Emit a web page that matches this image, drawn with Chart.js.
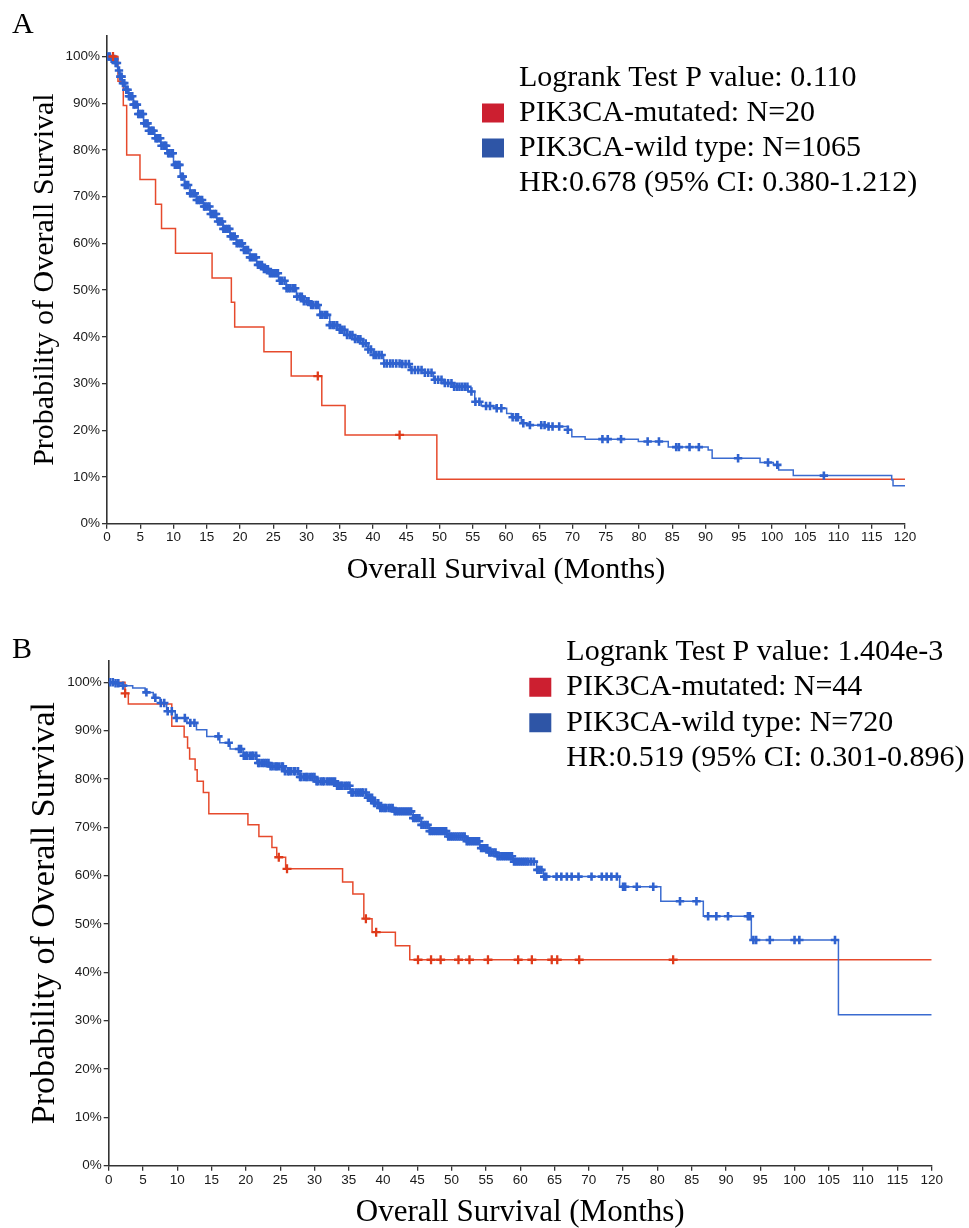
<!DOCTYPE html>
<html><head><meta charset="utf-8">
<script src="https://cdn.jsdelivr.net/npm/chart.js@4"></script>
<style>
html,body{margin:0;padding:0;background:#fff;}
#wrapA{position:absolute;left:0;top:0;width:969px;height:600px;}
#wrapB{position:absolute;left:0;top:600px;width:969px;height:628px;}
</style></head><body>
<div id="wrapA"><canvas id="chartA" width="969" height="600"></canvas></div>
<div id="wrapB"><canvas id="chartB" width="969" height="628"></canvas></div>
<script>
// ---------- shared axis ticks ----------
const xTickValues = [0,5,10,15,20,25,30,35,40,45,50,55,60,65,70,75,80,85,90,95,100,105,110,115,120];
const yTickValues = [0,10,20,30,40,50,60,70,80,90,100];
const yTickLabels = ['0%','10%','20%','30%','40%','50%','60%','70%','80%','90%','100%'];
const xTitle = 'Overall Survival (Months)';
const yTitle = 'Probability of Overall Survival';
const seriesNames = ['PIK3CA-mutated', 'PIK3CA-wild type'];

// ---------- Panel A ----------
const redA_t = [0, 1.65, 2.45, 2.96, 4.96, 7.3, 8.2, 10.3, 15.8, 18.7, 19.2, 23.6, 27.7, 32.3, 35.8, 49.6, 120];
const redA_s = [100, 94.7, 89.5, 78.9, 73.7, 68.4, 63.2, 57.9, 52.6, 47.4, 42.1, 36.8, 31.6, 25.3, 19.0, 9.5, 9.5];
const redA_censor = [0.9, 31.7, 44.0];

const blueA_t = [0, 0.6, 1.2, 1.6, 1.95, 2.3, 2.7, 3.3, 4.0, 4.7, 5.5, 6.3, 7.2, 8.1, 9.0, 10.0, 11.0, 11.7, 12.5, 13.5, 14.5, 15.5, 16.5, 17.5, 18.5, 19.5, 20.5, 21.5, 22.5, 23.5, 24.5, 25.8, 27.0, 28.5, 29.5, 30.5, 32.0, 33.5, 34.7, 36.0, 37.3, 38.5, 39.3, 40.1, 41.6, 44.1, 45.6, 47.8, 49.1, 50.6, 52.1, 54.3, 55.3, 56.3, 58.5, 60.1, 60.8, 62.3, 63.6, 66.0, 69.3, 69.9, 71.9, 79.9, 84.4, 90.4, 91.0, 98.2, 100.2, 101.0, 103.2, 118.0, 118.2, 120];
const blueA_s = [100, 99.5, 98.6, 97.0, 95.7, 94.3, 92.9, 91.5, 89.7, 87.7, 85.7, 84.1, 82.5, 80.9, 79.3, 76.8, 74.3, 72.5, 70.7, 69.3, 67.9, 66.3, 64.7, 63.1, 61.5, 60.0, 58.6, 57.0, 55.4, 54.5, 53.6, 52.0, 50.4, 48.6, 47.6, 46.8, 44.7, 42.5, 41.5, 40.4, 39.5, 38.6, 37.3, 36.1, 34.3, 34.2, 32.9, 32.3, 30.8, 30.1, 29.3, 28.3, 26.1, 25.2, 24.7, 23.6, 22.8, 21.5, 21.1, 20.8, 20.1, 18.6, 18.1, 17.6, 16.4, 15.8, 14.0, 13.1, 12.6, 11.5, 10.3, 9.4, 8.1, 8.1];
const blueA_censor = [0.2,0.4,0.7,0.9,1.1,1.3,1.5,1.8,2.0,2.2,2.4,2.6,2.9,3.1,3.3,3.5,3.8,4.0,4.2,4.5,4.7,4.9,5.2,5.4,5.6,5.9,6.1,6.3,6.6,6.8,7.0,7.3,7.5,7.7,8.0,8.2,8.5,8.7,8.9,9.2,9.4,9.7,9.9,10.2,10.4,10.7,10.9,11.2,11.4,11.7,11.9,12.2,12.5,12.7,13.0,13.2,13.5,13.8,14.0,14.3,14.6,14.8,15.1,15.4,15.6,15.9,16.2,16.4,16.7,17.0,17.3,17.5,17.8,18.1,18.4,18.6,18.9,19.2,19.5,19.8,20.1,20.3,20.6,20.9,21.2,21.5,21.8,22.1,22.4,22.7,23.0,23.3,23.6,23.9,24.2,24.5,24.8,25.1,25.4,25.7,26.0,26.3,26.7,27.0,27.3,27.6,28.0,28.3,28.6,29.0,29.3,29.6,30.0,30.3,30.7,31.0,31.4,31.7,32.1,32.4,32.8,33.1,33.5,33.9,34.2,34.6,35.0,35.3,35.7,36.1,36.5,36.9,37.3,37.7,38.1,38.5,38.9,39.3,39.7,40.1,40.5,40.9,41.3,41.7,42.1,42.6,43.0,43.5,44.0,44.4,44.9,45.4,45.8,46.3,46.8,47.3,47.8,48.3,48.8,49.3,49.8,50.3,50.8,51.3,51.8,52.2,52.6,53.0,53.4,53.8,54.2,54.8,55.4,56.0,57.0,57.6,58.6,59.3,61.0,61.5,61.8,62.6,63.6,65.3,65.8,66.4,67.0,68.0,69.3,74.5,75.3,77.3,81.3,83.0,85.6,86.0,87.6,89.0,94.9,99.4,100.8,107.8];
const legendA = ['Logrank Test P value: 0.110', 'PIK3CA-mutated: N=20', 'PIK3CA-wild type: N=1065', 'HR:0.678 (95% CI: 0.380-1.212)'];

// ---------- Panel B ----------
const redB_t = [0, 2.38, 2.86, 9.2, 11.0, 11.5, 11.8, 12.6, 12.9, 13.8, 14.6, 20.3, 21.9, 23.8, 24.5, 25.8, 34.1, 35.6, 37.2, 38.4, 41.8, 43.9, 120];
const redB_s = [100, 97.7, 95.5, 90.9, 88.7, 86.4, 84.1, 81.9, 79.5, 77.2, 72.8, 70.5, 68.1, 65.8, 63.8, 61.4, 58.7, 56.2, 51.1, 48.3, 45.5, 42.6, 42.6];
const redB_censor = [2.4, 24.8, 26.0, 37.5, 39.0, 45.1, 47.0, 48.4, 51.0, 52.6, 55.3, 59.7, 61.7, 64.6, 65.4, 68.6, 82.3];

const blueB_t = [0, 0.9, 2.1, 3.5, 5.3, 6.5, 7.5, 8.45, 9.7, 11.4, 12.8, 14.3, 16.2, 17.7, 19.6, 21.6, 23.5, 25.5, 27.9, 30.3, 33.2, 35.2, 37.6, 38.6, 39.5, 41.5, 44.4, 45.6, 46.8, 49.3, 52.2, 54.1, 55.4, 56.6, 59.0, 62.4, 63.4, 74.5, 80.5, 86.7, 93.7, 106.4, 120];
const blueB_s = [100, 99.8, 99.3, 98.8, 97.9, 96.8, 95.7, 94.0, 92.6, 91.6, 90.2, 88.8, 87.5, 86.2, 84.8, 83.3, 82.6, 81.6, 80.4, 79.5, 78.6, 77.2, 76.1, 75.0, 74.0, 73.3, 71.9, 70.5, 69.2, 68.1, 67.1, 65.7, 64.8, 64.0, 62.9, 61.2, 59.8, 57.7, 54.7, 51.6, 46.7, 31.2, 31.2];
const blueB_censor = [0.2,0.6,1.0,1.4,2.1,5.5,6.8,7.6,8.1,8.6,9.2,9.9,11.1,11.9,12.5,16.0,17.5,19.0,19.3,19.7,20.0,20.2,20.6,20.9,21.1,21.5,21.8,22.0,22.4,22.7,23.0,23.3,23.6,23.9,24.3,24.5,24.8,25.2,25.4,25.7,26.1,26.3,26.6,27.0,27.2,27.6,27.9,28.1,28.5,28.8,29.0,29.4,29.7,30.0,30.3,30.5,30.9,31.2,31.4,31.8,32.1,32.4,32.7,33.0,33.3,33.6,33.9,34.1,34.5,34.8,35.1,35.4,35.6,36.0,36.3,36.6,36.9,37.1,37.5,37.8,38.1,38.4,38.7,38.9,39.3,39.6,39.9,40.2,40.4,40.8,41.1,41.4,41.7,42.0,42.3,42.6,42.9,43.2,43.5,43.8,44.1,44.4,44.7,45.0,45.3,45.6,45.9,46.2,46.5,46.8,47.1,47.4,47.7,48.0,48.3,48.6,48.9,49.2,49.5,49.8,50.1,50.4,50.7,51.0,51.3,51.6,51.9,52.2,52.5,52.8,53.1,53.4,53.7,54.0,54.3,54.6,54.9,55.2,55.5,55.8,56.1,56.4,56.7,57.0,57.3,57.6,57.9,58.2,58.5,58.8,59.1,59.4,59.7,60.0,60.3,60.6,60.9,61.2,61.6,62.0,62.5,62.8,63.1,63.5,63.8,65.3,66.0,66.8,67.5,68.5,70.4,71.9,72.6,73.3,74.1,75.0,75.3,77.0,79.4,83.3,85.7,87.4,88.6,90.3,93.2,93.5,94.0,94.4,96.4,100.0,100.7,105.9];
const legendB = ['Logrank Test P value: 1.404e-3', 'PIK3CA-mutated: N=44', 'PIK3CA-wild type: N=720', 'HR:0.519 (95% CI: 0.301-0.896)'];

// ---------- helpers ----------
const RED_LINE = '#e64a2c', BLUE_LINE = '#3a6bd0';
const RED_MARK = '#df3a1a', BLUE_MARK = '#2f62cf';
const RED_BOX = '#cc1f30', BLUE_BOX = '#2e55a6';
const Y_MAX = 104.5;

function stepPoints(ts, ss) { return ts.map((t, i) => ({x: t, y: ss[i]})); }
function censorPoints(times, ts, ss) {
  return times.map(t => {
    let s = ss[0];
    for (let i = 0; i < ts.length; i++) { if (ts[i] <= t) s = ss[i]; }
    return {x: t, y: s};
  });
}

const placeLegend = {
  id: 'placeLegend',
  afterLayout(chart, args, opts) {
    const L = chart.legend;
    if (!L) return;
    const w = L.right - L.left, h = L.bottom - L.top;
    L.left = opts.left; L.top = opts.top;
    L.right = opts.left + w; L.bottom = opts.top + h;
  }
};

function makeChart(id, p) {
  const tickFont = {family: 'Liberation Sans', size: 13.5};
  return new Chart(document.getElementById(id), {
    type: 'line',
    data: {
      datasets: [
        {label: seriesNames[0] + ' censored', data: censorPoints(p.redC, p.redT, p.redS), showLine: false,
         pointStyle: 'cross', pointRadius: 4.5, pointBorderWidth: 2.3, pointBorderColor: RED_MARK, pointBackgroundColor: RED_MARK},
        {label: seriesNames[1] + ' censored', data: censorPoints(p.blueC, p.blueT, p.blueS), showLine: false,
         pointStyle: 'cross', pointRadius: 4.2, pointBorderWidth: 2.6, pointBorderColor: BLUE_MARK, pointBackgroundColor: BLUE_MARK},
        {label: seriesNames[1], data: stepPoints(p.blueT, p.blueS), stepped: 'before', borderColor: BLUE_LINE,
         borderWidth: 1.5, pointRadius: 0, fill: false},
        {label: seriesNames[0], data: stepPoints(p.redT, p.redS), stepped: 'before', borderColor: RED_LINE,
         borderWidth: 1.5, pointRadius: 0, fill: false}
      ]
    },
    options: {
      responsive: false, animation: false, events: [],
      layout: {padding: {left: 12, top: p.padTop, right: p.padRight, bottom: 0}},
      scales: {
        x: {
          type: 'linear', min: 0, max: 120,
          afterBuildTicks: s => { s.ticks = xTickValues.map(v => ({value: v})); },
          afterFit: s => { s.height = p.xAxisH; },
          ticks: {autoSkip: false, maxRotation: 0, font: tickFont, color: '#1a1a1a', padding: p.xTickPad},
          grid: {drawOnChartArea: false, drawTicks: true, tickLength: 5, color: '#333', lineWidth: 1.3},
          border: {display: true, color: '#333', width: 1.6},
          title: {display: true, text: xTitle, color: '#000',
                  font: {family: 'Liberation Serif', size: p.xTitleSize, lineHeight: p.xTitleLH},
                  padding: {top: 0, bottom: p.xTitlePadB}}
        },
        y: {
          type: 'linear', min: 0, max: Y_MAX,
          afterBuildTicks: s => { s.ticks = yTickValues.map(v => ({value: v})); },
          afterFit: s => { s.width = p.yAxisW; },
          ticks: {font: tickFont, color: '#1a1a1a', padding: 2,
                  callback: (v) => yTickLabels[yTickValues.indexOf(v)]},
          grid: {drawOnChartArea: false, drawTicks: true, tickLength: 5, color: '#333', lineWidth: 1.3},
          border: {display: true, color: '#333', width: 1.6},
          title: {display: true, text: yTitle, color: '#000',
                  font: {family: 'Liberation Serif', size: p.yTitleSize, lineHeight: 1.2},
                  padding: {top: p.yTitlePadT, bottom: 0}}
        }
      },
      plugins: {
        title: {display: true, text: p.letter, align: 'start', color: '#000',
                font: {family: 'Liberation Serif', size: 30, weight: 'normal', lineHeight: 0.7},
                padding: {top: 0, bottom: 0}},
        tooltip: {enabled: false},
        legend: {
          display: true, position: 'chartArea', align: 'start', onClick: null,
          labels: {
            boxWidth: 22, boxHeight: 19, padding: p.legendPad, color: '#000',
            font: {family: 'Liberation Serif', size: 30},
            generateLabels: () => p.legend.map((text, i) => ({
              text: text,
              fillStyle: i === 1 ? RED_BOX : (i === 2 ? BLUE_BOX : 'rgba(0,0,0,0)'),
              strokeStyle: 'rgba(0,0,0,0)', lineWidth: 0, hidden: false, fontColor: '#000'
            }))
          }
        },
        placeLegend: {left: p.legendLeft, top: p.legendTop}
      }
    },
    plugins: [placeLegend]
  });
}

makeChart('chartA', {
  letter: 'A', redT: redA_t, redS: redA_s, redC: redA_censor,
  blueT: blueA_t, blueS: blueA_s, blueC: blueA_censor, legend: legendA,
  padTop: 14.5, padRight: 64, yAxisW: 95, xAxisH: 76.3, xTickPad: 0,
  xTitleSize: 30, xTitleLH: 1.2, xTitlePadB: 12, yTitleSize: 30, yTitlePadT: 15,
  legendLeft: 477.2, legendTop: 58.5, legendPad: 4.8
});
makeChart('chartB', {
  letter: 'B', redT: redB_t, redS: redB_s, redC: redB_censor,
  blueT: blueB_t, blueS: blueB_s, blueC: blueB_censor, legend: legendB,
  padTop: 39.5, padRight: 37.3, yAxisW: 96.7, xAxisH: 62.3, xTickPad: 1,
  xTitleSize: 31, xTitleLH: 1.0, xTitlePadB: 0, yTitleSize: 34, yTitlePadT: 12.6,
  legendLeft: 523.8, legendTop: 31.2, legendPad: 5.5
});
</script></body></html>
